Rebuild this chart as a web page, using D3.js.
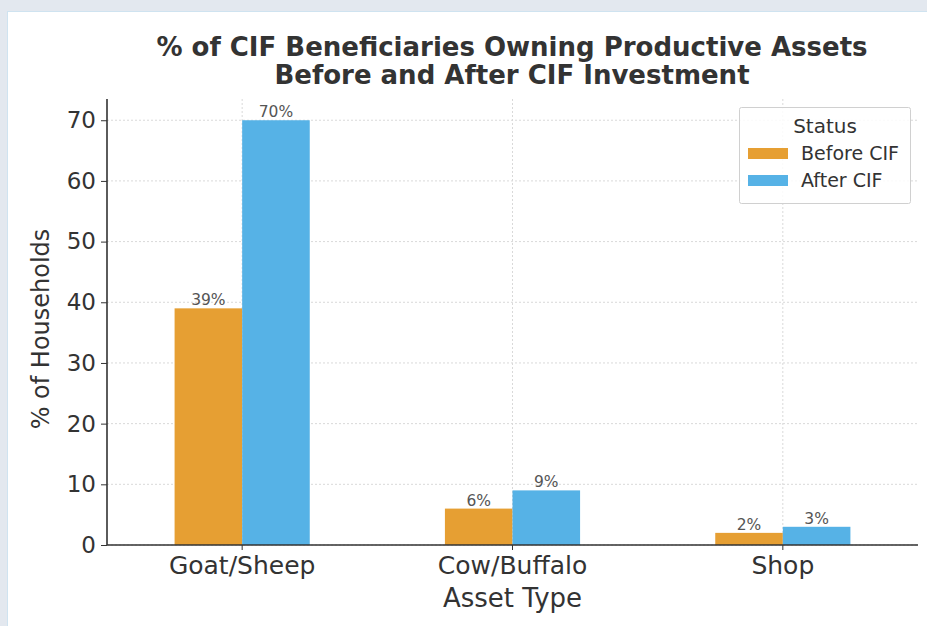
<!DOCTYPE html>
<html><head><meta charset="utf-8">
<script src="https://cdn.jsdelivr.net/npm/d3@7"></script>
<style>
html,body{margin:0;padding:0;background:#e3e8ef;}
svg{display:block;font-family:"DejaVu Sans",sans-serif;}
</style></head>
<body>
<svg id="chart" width="927" height="626"></svg>
<script>
const categories = ["Goat/Sheep", "Cow/Buffalo", "Shop"];
const seriesNames = ["Before CIF", "After CIF"];
const beforeValues = [39, 6, 2];
const afterValues = [70, 9, 3];
const yTicks = [0, 10, 20, 30, 40, 50, 60, 70];
const colors = ["#E69F33", "#56B2E6"];
const titleLines = ["% of CIF Beneficiaries Owning Productive Assets", "Before and After CIF Investment"];

const svg = d3.select("#chart");
svg.append("rect").attr("x", 7.5).attr("y", 11.5).attr("width", 940).attr("height", 640)
  .attr("fill", "#ffffff").attr("stroke", "#cfe3f0").attr("stroke-width", 1);

const m = {left: 107, right: 918, top: 99, bottom: 545};
const x = d3.scaleBand().domain(categories).range([m.left, m.right]).paddingInner(0).paddingOuter(0);
const inner = d3.scaleBand().domain(seriesNames).range([x.bandwidth()*0.25, x.bandwidth()*0.75]);
const y = d3.scaleLinear().domain([0, 73.5]).range([m.bottom, m.top]);

const g = svg.append("g");
// grid
g.selectAll(".hg").data(yTicks).join("line")
  .attr("x1", m.left).attr("x2", m.right)
  .attr("y1", d => y(d)).attr("y2", d => y(d))
  .attr("stroke", "#d9d9d9").attr("stroke-width", 1).attr("stroke-dasharray", "2,2");
g.selectAll(".vg").data(categories).join("line")
  .attr("x1", d => x(d) + x.bandwidth()/2).attr("x2", d => x(d) + x.bandwidth()/2)
  .attr("y1", m.top).attr("y2", m.bottom)
  .attr("stroke", "#d9d9d9").attr("stroke-width", 1).attr("stroke-dasharray", "2,2");

const data = categories.map((c, i) => ({cat: c, vals: [
  {s: seriesNames[0], v: beforeValues[i], c: colors[0]},
  {s: seriesNames[1], v: afterValues[i], c: colors[1]}]}));

const groups = g.selectAll(".grp").data(data).join("g").attr("transform", d => `translate(${x(d.cat)},0)`);
groups.selectAll("rect").data(d => d.vals).join("rect")
  .attr("x", d => inner(d.s)).attr("width", inner.bandwidth())
  .attr("y", d => y(d.v)).attr("height", d => y(0) - y(d.v))
  .attr("fill", d => d.c);
groups.selectAll("text").data(d => d.vals).join("text")
  .attr("x", d => inner(d.s) + inner.bandwidth()/2).attr("y", d => y(d.v) - 3)
  .attr("text-anchor", "middle").attr("font-size", 15.5).attr("fill", "#555")
  .text(d => d.v + "%");

// axes
const ya = d3.axisLeft(y).tickValues(yTicks).tickSize(6).tickPadding(5);
const yg = svg.append("g").attr("transform", `translate(${m.left},0)`).call(ya);
yg.select(".domain").attr("stroke", "#333").attr("stroke-width", 1.6).attr("d", `M0,${m.top}V${m.bottom}`);
yg.selectAll(".tick line").attr("stroke", "#333");
yg.selectAll(".tick text").attr("font-size", 23).attr("fill", "#333").attr("font-family", "DejaVu Sans");

const xa = d3.axisBottom(x).tickSize(5).tickPadding(6);
const xg = svg.append("g").attr("transform", `translate(0,${m.bottom})`).call(xa);
xg.select(".domain").attr("stroke", "#333").attr("stroke-width", 1.6).attr("d", `M${m.left},0H${m.right}`);
xg.selectAll(".tick line").attr("stroke", "#333");
xg.selectAll(".tick text").attr("font-size", 25).attr("fill", "#333").attr("font-family", "DejaVu Sans");

svg.append("text").attr("x", (m.left + m.right)/2).attr("y", 607).attr("text-anchor", "middle")
  .attr("font-size", 26).attr("fill", "#333").text("Asset Type");
svg.append("text").attr("transform", `translate(49,${(m.top+m.bottom)/2 + 7}) rotate(-90)`)
  .attr("text-anchor", "middle").attr("font-size", 24).attr("fill", "#333").text("% of Households");

svg.selectAll(".title").data(titleLines).join("text")
  .attr("x", 512).attr("y", (d, i) => 56 + i*28).attr("text-anchor", "middle")
  .attr("font-size", 26).attr("font-weight", "bold").attr("fill", "#333").text(d => d);

// legend
const lg = svg.append("g");
lg.append("rect").attr("x", 739.5).attr("y", 107.5).attr("width", 171).attr("height", 96)
  .attr("fill", "#fff").attr("fill-opacity", 0.85).attr("stroke", "#d0d0d0").attr("rx", 2);
lg.append("text").attr("x", 825).attr("y", 133).attr("text-anchor", "middle")
  .attr("font-size", 20).attr("fill", "#333").text("Status");
const li = lg.selectAll(".li").data(seriesNames).join("g")
  .attr("transform", (d, i) => `translate(748,${148 + i*27})`);
li.append("rect").attr("width", 40).attr("height", 11).attr("fill", (d, i) => colors[i]);
li.append("text").attr("x", 53).attr("y", 12).attr("font-size", 19).attr("fill", "#333").text(d => d);
</script>
</body></html>
